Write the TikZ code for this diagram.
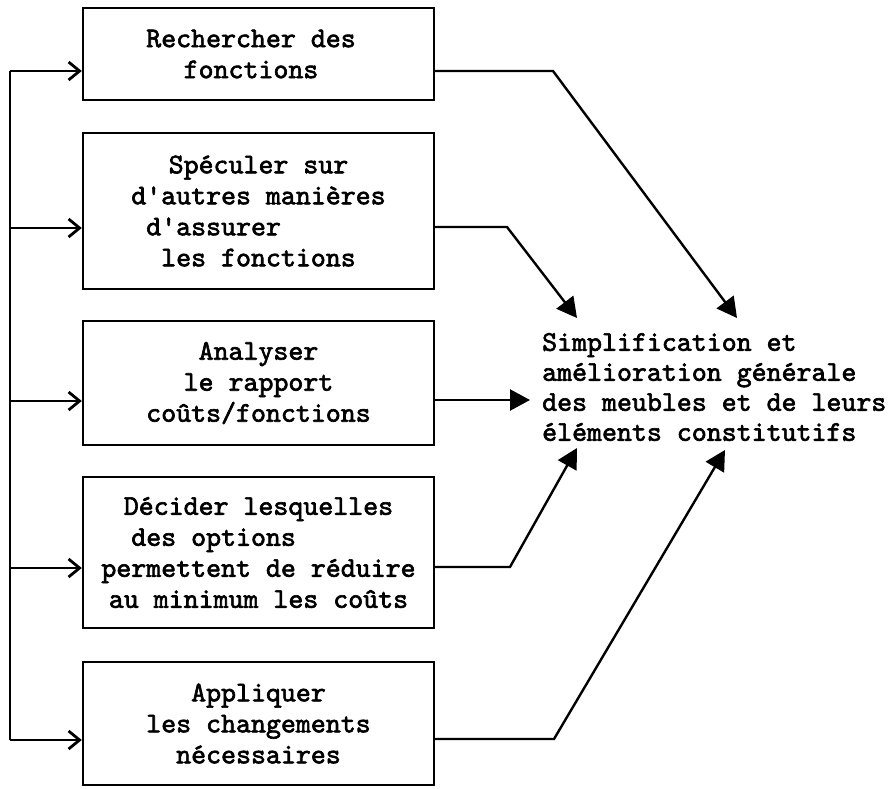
\documentclass[tikz,border=0pt]{standalone}
\usepackage{fontspec}
\usetikzlibrary{arrows.meta}
% heavy typewriter face
\newfontfamily\typew{lmmono10-regular.otf}[FakeBold=2.2]
\begin{document}
\begin{tikzpicture}[x=1pt,y=-1pt,
  line/.style={line width=2.4pt},
  stepbox/.style={draw,line width=2.4pt,minimum width=351pt,inner sep=0pt,
    align=center,font=\typew\fontsize{28.5}{31}\selectfont},
  goal/.style={inner sep=0pt,align=left,
    font=\typew\fontsize{28.5}{30}\selectfont},
  feed/.style={line,-{Straight Barb[length=11pt,width=18pt,line width=2.8pt]}},
  toward/.style={line,-{Triangle[length=20pt,width=21pt]}}]
\useasboundingbox (0,0) rectangle (892,788);

% the five steps
\node[stepbox,minimum height=92pt]  (b1) at (258.5,54)  {Rechercher des\hphantom{x}\\fonctions\hphantom{x}};
\node[stepbox,minimum height=156pt] (b2) at (258.5,211) {Spéculer sur\\d'autres manières\\d'assurer\hphantom{xxxxxx}\\les fonctions};
\node[stepbox,minimum height=124pt] (b3) at (258.5,383) {Analyser\\le rapport\\coûts/fonctions};
\node[stepbox,minimum height=151pt] (b4) at (258.5,552.5) {Décider lesquelles\\des options\hphantom{xxxxxx}\\permettent de réduire\\au minimum les coûts};
\node[stepbox,minimum height=123pt] (b5) at (258.5,723.5) {Appliquer\\les changements\\nécessaires};

% the outcome
\node[goal,anchor=west] (t) at (542,387) {Simplification et\\amélioration générale\\des meubles et de leurs\\éléments constitutifs};

% feeding bus on the left
\coordinate (L1) at (10,71);
\coordinate (L2) at (10,228);
\coordinate (L3) at (10,401);
\coordinate (L4) at (10,568);
\coordinate (L5) at (10,740);
\draw[line] (L1) -- (L5);
\foreach \i in {1,...,5}
  \draw[feed] (L\i) -- (b\i.west |- L\i);

% bends and tips on the right
\coordinate (K1) at (553,71);
\coordinate (K2) at (507,227);
\coordinate (K4) at (510,567);
\coordinate (K5) at (554,739);
\coordinate (T1) at (737,318);
\coordinate (T2) at (577,318);
\coordinate (T3) at (530,400);
\coordinate (T4) at (577,448);
\coordinate (T5) at (725,450);

\draw[toward] (b1.east |- K1) -- (K1) -- (T1);
\draw[toward] (b2.east |- K2) -- (K2) -- (T2);
\draw[toward] (b3.east |- T3) -- (T3);
\draw[toward] (b4.east |- K4) -- (K4) -- (T4);
\draw[toward] (b5.east |- K5) -- (K5) -- (T5);
\end{tikzpicture}
\end{document}
